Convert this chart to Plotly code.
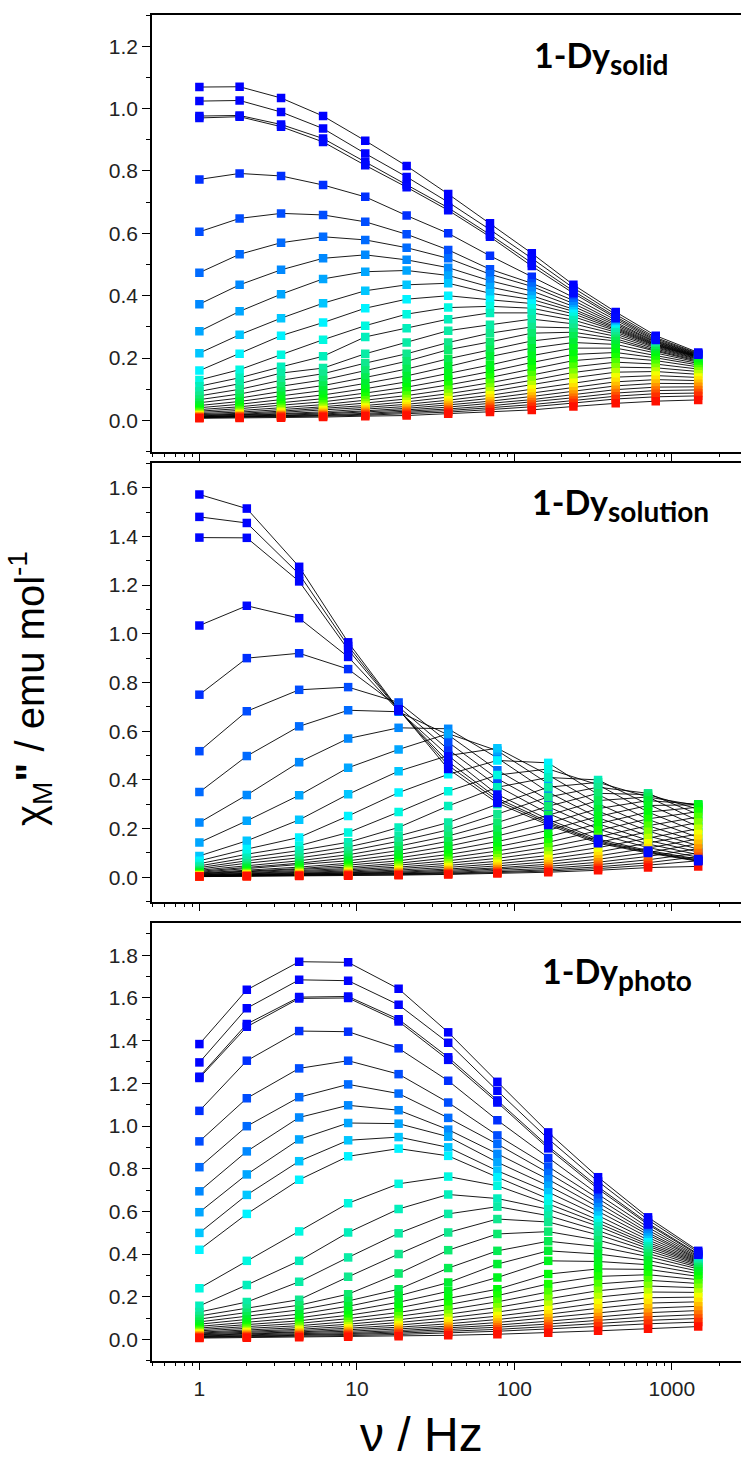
import plotly.graph_objects as go
from plotly.colors import sample_colorscale

# ---------------- data ----------------
freq_solid = [1, 1.8, 3.3, 6.1, 11.3, 20.7, 38, 70, 129, 237, 440, 790, 1470]
freq_soln = [1, 2.0, 4.3, 8.8, 18.4, 38, 78, 164, 340, 706, 1470]
freq_photo = [1, 2.0, 4.3, 8.8, 18.4, 38, 78, 164, 340, 706, 1470]

chi_solid = [
    [1.069, 1.070, 1.034, 0.976, 0.897, 0.816, 0.726, 0.632, 0.536, 0.435, 0.348, 0.272, 0.218],
    [1.024, 1.026, 0.989, 0.936, 0.856, 0.781, 0.700, 0.612, 0.520, 0.425, 0.340, 0.266, 0.215],
    [0.976, 0.978, 0.949, 0.904, 0.829, 0.757, 0.682, 0.596, 0.505, 0.415, 0.333, 0.262, 0.213],
    [0.970, 0.974, 0.942, 0.893, 0.818, 0.748, 0.674, 0.589, 0.495, 0.408, 0.328, 0.258, 0.211],
    [0.773, 0.792, 0.784, 0.755, 0.717, 0.657, 0.600, 0.528, 0.461, 0.395, 0.322, 0.255, 0.210],
    [0.605, 0.648, 0.664, 0.659, 0.637, 0.597, 0.547, 0.485, 0.440, 0.385, 0.315, 0.252, 0.208],
    [0.474, 0.533, 0.570, 0.589, 0.579, 0.554, 0.520, 0.469, 0.430, 0.375, 0.310, 0.250, 0.207],
    [0.373, 0.435, 0.483, 0.520, 0.531, 0.515, 0.490, 0.448, 0.415, 0.366, 0.305, 0.247, 0.206],
    [0.286, 0.350, 0.405, 0.454, 0.477, 0.481, 0.465, 0.428, 0.400, 0.357, 0.300, 0.245, 0.205],
    [0.216, 0.275, 0.328, 0.376, 0.416, 0.435, 0.440, 0.408, 0.388, 0.350, 0.296, 0.243, 0.204],
    [0.160, 0.214, 0.272, 0.314, 0.360, 0.389, 0.400, 0.387, 0.375, 0.342, 0.292, 0.241, 0.203],
    [0.130, 0.163, 0.211, 0.259, 0.304, 0.341, 0.362, 0.366, 0.360, 0.333, 0.288, 0.239, 0.202],
    [0.110, 0.137, 0.172, 0.206, 0.268, 0.296, 0.325, 0.345, 0.345, 0.322, 0.283, 0.236, 0.200],
    [0.093, 0.118, 0.152, 0.168, 0.214, 0.250, 0.288, 0.307, 0.325, 0.310, 0.277, 0.233, 0.198],
    [0.079, 0.100, 0.129, 0.150, 0.184, 0.214, 0.250, 0.280, 0.300, 0.297, 0.270, 0.229, 0.196],
    [0.067, 0.085, 0.110, 0.130, 0.160, 0.190, 0.227, 0.252, 0.280, 0.283, 0.262, 0.225, 0.193],
    [0.057, 0.072, 0.093, 0.112, 0.138, 0.165, 0.198, 0.227, 0.255, 0.270, 0.255, 0.222, 0.190],
    [0.048, 0.061, 0.079, 0.096, 0.119, 0.143, 0.173, 0.205, 0.232, 0.250, 0.244, 0.216, 0.187],
    [0.041, 0.052, 0.067, 0.082, 0.102, 0.124, 0.151, 0.178, 0.208, 0.232, 0.232, 0.209, 0.183],
    [0.035, 0.044, 0.057, 0.070, 0.088, 0.107, 0.131, 0.157, 0.186, 0.212, 0.218, 0.201, 0.178],
    [0.030, 0.038, 0.049, 0.060, 0.076, 0.093, 0.114, 0.138, 0.165, 0.192, 0.203, 0.192, 0.172],
    [0.026, 0.032, 0.041, 0.051, 0.065, 0.080, 0.099, 0.121, 0.146, 0.172, 0.187, 0.181, 0.165],
    [0.022, 0.027, 0.035, 0.044, 0.056, 0.069, 0.086, 0.106, 0.129, 0.154, 0.171, 0.169, 0.157],
    [0.019, 0.023, 0.030, 0.038, 0.048, 0.060, 0.075, 0.093, 0.114, 0.137, 0.155, 0.157, 0.148],
    [0.017, 0.020, 0.026, 0.033, 0.042, 0.052, 0.065, 0.081, 0.100, 0.121, 0.139, 0.144, 0.138],
    [0.015, 0.018, 0.022, 0.028, 0.036, 0.045, 0.057, 0.071, 0.088, 0.107, 0.124, 0.131, 0.128],
    [0.013, 0.016, 0.019, 0.024, 0.031, 0.039, 0.050, 0.062, 0.077, 0.094, 0.111, 0.119, 0.118],
    [0.012, 0.014, 0.017, 0.021, 0.027, 0.034, 0.043, 0.054, 0.067, 0.083, 0.099, 0.107, 0.108],
    [0.011, 0.013, 0.015, 0.018, 0.023, 0.029, 0.037, 0.047, 0.059, 0.073, 0.088, 0.096, 0.098],
    [0.010, 0.012, 0.013, 0.016, 0.020, 0.025, 0.032, 0.041, 0.051, 0.064, 0.078, 0.086, 0.088],
    [0.009, 0.010, 0.012, 0.014, 0.017, 0.021, 0.027, 0.035, 0.044, 0.056, 0.069, 0.076, 0.079],
    [0.007, 0.008, 0.009, 0.011, 0.014, 0.016, 0.022, 0.027, 0.034, 0.045, 0.055, 0.062, 0.066],
]

chi_solution = [
    [1.572, 1.514, 1.275, 0.965, 0.690, 0.445, 0.305, 0.215, 0.140, 0.100, 0.066],
    [1.480, 1.455, 1.245, 0.950, 0.688, 0.460, 0.315, 0.222, 0.145, 0.103, 0.068],
    [1.395, 1.394, 1.215, 0.935, 0.686, 0.475, 0.325, 0.228, 0.150, 0.106, 0.071],
    [1.034, 1.115, 1.064, 0.905, 0.684, 0.500, 0.340, 0.238, 0.157, 0.110, 0.075],
    [0.750, 0.900, 0.920, 0.855, 0.700, 0.525, 0.375, 0.262, 0.178, 0.122, 0.083],
    [0.518, 0.682, 0.770, 0.781, 0.718, 0.555, 0.405, 0.290, 0.198, 0.137, 0.093],
    [0.350, 0.498, 0.620, 0.686, 0.680, 0.585, 0.440, 0.318, 0.220, 0.152, 0.104],
    [0.225, 0.338, 0.473, 0.570, 0.614, 0.610, 0.490, 0.350, 0.245, 0.170, 0.116],
    [0.143, 0.232, 0.337, 0.450, 0.525, 0.590, 0.520, 0.385, 0.272, 0.190, 0.130],
    [0.088, 0.150, 0.236, 0.341, 0.436, 0.500, 0.530, 0.420, 0.302, 0.212, 0.146],
    [0.068, 0.116, 0.164, 0.252, 0.348, 0.423, 0.480, 0.470, 0.340, 0.238, 0.164],
    [0.056, 0.095, 0.130, 0.184, 0.268, 0.354, 0.420, 0.445, 0.380, 0.268, 0.185],
    [0.047, 0.080, 0.110, 0.144, 0.205, 0.293, 0.370, 0.410, 0.400, 0.300, 0.208],
    [0.040, 0.068, 0.094, 0.125, 0.170, 0.225, 0.300, 0.370, 0.390, 0.330, 0.232],
    [0.034, 0.058, 0.080, 0.108, 0.148, 0.195, 0.260, 0.330, 0.370, 0.345, 0.258],
    [0.029, 0.049, 0.068, 0.093, 0.128, 0.170, 0.225, 0.292, 0.345, 0.340, 0.280],
    [0.025, 0.042, 0.058, 0.080, 0.110, 0.148, 0.195, 0.255, 0.315, 0.330, 0.295],
    [0.021, 0.036, 0.050, 0.068, 0.094, 0.128, 0.170, 0.222, 0.282, 0.315, 0.300],
    [0.018, 0.030, 0.042, 0.058, 0.080, 0.110, 0.147, 0.193, 0.250, 0.295, 0.298],
    [0.016, 0.026, 0.036, 0.050, 0.068, 0.094, 0.126, 0.167, 0.220, 0.268, 0.288],
    [0.014, 0.022, 0.031, 0.042, 0.058, 0.080, 0.108, 0.144, 0.192, 0.240, 0.270],
    [0.012, 0.019, 0.026, 0.036, 0.050, 0.068, 0.092, 0.124, 0.166, 0.212, 0.248],
    [0.010, 0.016, 0.022, 0.031, 0.042, 0.058, 0.078, 0.106, 0.143, 0.187, 0.225],
    [0.009, 0.014, 0.019, 0.026, 0.036, 0.049, 0.066, 0.090, 0.122, 0.162, 0.200],
    [0.008, 0.012, 0.016, 0.022, 0.030, 0.041, 0.056, 0.076, 0.104, 0.140, 0.178],
    [0.007, 0.010, 0.014, 0.019, 0.025, 0.034, 0.047, 0.064, 0.088, 0.120, 0.158],
    [0.006, 0.009, 0.012, 0.016, 0.021, 0.029, 0.039, 0.054, 0.074, 0.102, 0.138],
    [0.005, 0.008, 0.010, 0.013, 0.018, 0.024, 0.033, 0.045, 0.062, 0.086, 0.118],
    [0.005, 0.007, 0.009, 0.011, 0.015, 0.020, 0.027, 0.037, 0.052, 0.072, 0.100],
    [0.004, 0.006, 0.008, 0.010, 0.013, 0.017, 0.023, 0.031, 0.043, 0.060, 0.085],
    [0.004, 0.005, 0.007, 0.008, 0.011, 0.014, 0.019, 0.026, 0.036, 0.050, 0.068],
    [0.003, 0.004, 0.006, 0.007, 0.009, 0.012, 0.016, 0.021, 0.029, 0.040, 0.045],
]

chi_photo = [
    [1.384, 1.638, 1.770, 1.767, 1.643, 1.439, 1.207, 0.970, 0.760, 0.572, 0.415],
    [1.298, 1.552, 1.685, 1.681, 1.568, 1.390, 1.165, 0.940, 0.740, 0.560, 0.408],
    [1.231, 1.478, 1.604, 1.607, 1.500, 1.322, 1.120, 0.905, 0.715, 0.545, 0.400],
    [1.225, 1.465, 1.598, 1.600, 1.490, 1.310, 1.110, 0.895, 0.705, 0.538, 0.396],
    [1.071, 1.306, 1.445, 1.442, 1.364, 1.212, 1.027, 0.850, 0.680, 0.525, 0.390],
    [0.928, 1.130, 1.270, 1.306, 1.243, 1.110, 0.956, 0.810, 0.660, 0.512, 0.385],
    [0.807, 0.999, 1.135, 1.195, 1.152, 1.038, 0.915, 0.780, 0.640, 0.500, 0.380],
    [0.694, 0.881, 1.040, 1.097, 1.074, 0.983, 0.870, 0.750, 0.620, 0.490, 0.376],
    [0.596, 0.773, 0.937, 1.014, 1.011, 0.950, 0.830, 0.720, 0.600, 0.478, 0.372],
    [0.499, 0.677, 0.835, 0.933, 0.948, 0.900, 0.790, 0.690, 0.580, 0.466, 0.368],
    [0.420, 0.588, 0.748, 0.858, 0.894, 0.860, 0.760, 0.660, 0.560, 0.455, 0.364],
    [0.240, 0.368, 0.506, 0.638, 0.729, 0.763, 0.720, 0.635, 0.545, 0.445, 0.360],
    [0.157, 0.255, 0.368, 0.501, 0.611, 0.679, 0.660, 0.610, 0.530, 0.436, 0.355],
    [0.128, 0.175, 0.270, 0.384, 0.497, 0.588, 0.622, 0.580, 0.510, 0.426, 0.350],
    [0.110, 0.145, 0.186, 0.293, 0.400, 0.501, 0.564, 0.550, 0.490, 0.415, 0.344],
    [0.095, 0.125, 0.160, 0.212, 0.309, 0.418, 0.494, 0.505, 0.465, 0.402, 0.338],
    [0.082, 0.108, 0.138, 0.180, 0.235, 0.334, 0.415, 0.460, 0.435, 0.388, 0.330],
    [0.071, 0.093, 0.118, 0.155, 0.204, 0.266, 0.353, 0.415, 0.400, 0.370, 0.320],
    [0.061, 0.080, 0.101, 0.132, 0.174, 0.225, 0.290, 0.368, 0.365, 0.350, 0.308],
    [0.053, 0.069, 0.087, 0.113, 0.148, 0.192, 0.235, 0.306, 0.330, 0.328, 0.295],
    [0.046, 0.059, 0.075, 0.097, 0.126, 0.163, 0.205, 0.260, 0.295, 0.303, 0.280],
    [0.040, 0.051, 0.064, 0.083, 0.108, 0.139, 0.176, 0.222, 0.260, 0.277, 0.262],
    [0.034, 0.044, 0.055, 0.071, 0.092, 0.118, 0.150, 0.190, 0.228, 0.250, 0.242],
    [0.030, 0.038, 0.047, 0.061, 0.079, 0.101, 0.128, 0.162, 0.198, 0.222, 0.220],
    [0.026, 0.033, 0.041, 0.052, 0.067, 0.086, 0.109, 0.138, 0.170, 0.195, 0.198],
    [0.022, 0.028, 0.035, 0.045, 0.057, 0.073, 0.093, 0.118, 0.146, 0.170, 0.176],
    [0.019, 0.024, 0.030, 0.038, 0.049, 0.062, 0.079, 0.100, 0.124, 0.146, 0.155],
    [0.016, 0.020, 0.025, 0.032, 0.041, 0.053, 0.067, 0.085, 0.105, 0.125, 0.135],
    [0.013, 0.017, 0.021, 0.027, 0.035, 0.045, 0.057, 0.072, 0.089, 0.106, 0.116],
    [0.011, 0.014, 0.018, 0.023, 0.029, 0.037, 0.047, 0.060, 0.075, 0.089, 0.098],
    [0.009, 0.011, 0.014, 0.018, 0.023, 0.030, 0.038, 0.049, 0.061, 0.073, 0.081],
    [0.006, 0.008, 0.010, 0.012, 0.015, 0.019, 0.024, 0.031, 0.040, 0.050, 0.060],
]

x_tick_vals = [1, 10, 100, 1000]
x_tick_text = ["1", "10", "100", "1000"]
panel_names = ["solid", "solution", "photo"]

# ---------------- style ----------------
rainbow = [
    [0.00, "#0000FF"], [0.10, "#0008FF"], [0.13, "#0030FF"], [0.19, "#0068FF"],
    [0.26, "#00A8FF"], [0.30, "#00D0FF"], [0.33, "#00FFFF"], [0.38, "#00F0C0"],
    [0.45, "#10E890"], [0.55, "#00EE30"], [0.63, "#00FF00"], [0.72, "#90FF00"],
    [0.78, "#FFFF00"], [0.85, "#FFB000"], [0.92, "#FF6000"], [1.00, "#FF1000"],
]

W, H = 741, 1462
ML = 152
panel_px = [(15, 451.7), (463.3, 901.7), (923.3, 1360.7)]
y_ranges = [[-0.1, 1.3], [-0.1, 1.7], [-0.1, 1.95]]
x_range = [-0.301, 3.439]

minor_x = [m * 10 ** e for e in range(-1, 4) for m in range(2, 10)]
minor_x = [v for v in minor_x if 0.5 <= v <= 2700]

panels = [(freq_solid, chi_solid), (freq_soln, chi_solution), (freq_photo, chi_photo)]

fig = go.Figure()
tickfont = dict(family="Liberation Sans, Arial, sans-serif", size=21, color="#222")

for k, (freqs, curves) in enumerate(panels):
    xa = "x" if k == 0 else f"x{k+1}"
    ya = "y" if k == 0 else f"y{k+1}"
    n = len(curves)
    cols = sample_colorscale(rainbow, [i / (n - 1) for i in range(n)])
    lx, ly = [], []
    for c in curves:
        lx += list(freqs) + [None]
        ly += list(c) + [None]
    fig.add_trace(go.Scatter(x=lx, y=ly, mode="lines", xaxis=xa, yaxis=ya,
                             line=dict(color="black", width=0.9),
                             hoverinfo="skip", showlegend=False))
    # draw order: warmer curves over cooler ones, the four coldest curves last
    order = list(range(4, n)) + list(range(4))
    mx, my, mc = [], [], []
    for i in order:
        c = curves[i]
        mx += list(freqs)
        my += list(c)
        mc += [cols[i]] * len(freqs)
    fig.add_trace(go.Scatter(x=mx, y=my, mode="markers", xaxis=xa, yaxis=ya,
                             marker=dict(symbol="square", size=8.5, color=mc, line=dict(width=0)),
                             showlegend=False))

    top, bot = panel_px[k]
    dom = [1 - bot / H, 1 - top / H]
    xkey = "xaxis" if k == 0 else f"xaxis{k+1}"
    ykey = "yaxis" if k == 0 else f"yaxis{k+1}"
    fig.layout[xkey] = dict(
        type="log", range=x_range, domain=[0, 1], anchor=ya,
        showline=True, linecolor="black", linewidth=1.5, mirror=True,
        ticks="outside", ticklen=8, tickwidth=1.2, tickcolor="black",
        tickmode="array", tickvals=x_tick_vals, ticktext=x_tick_text,
        showticklabels=(k == 2), tickfont=tickfont, showgrid=False, zeroline=False,
        minor=dict(tickmode="array", tickvals=minor_x, ticks="outside", ticklen=4,
                   tickwidth=1, tickcolor="black", showgrid=False),
    )
    fig.layout[ykey] = dict(
        range=y_ranges[k], domain=dom, anchor=xa,
        showline=True, linecolor="black", linewidth=1.5, mirror=False,
        ticks="outside", ticklen=8, tickwidth=1.2, tickcolor="black",
        tick0=0, dtick=0.2, tickformat=".1f", tickfont=tickfont,
        showgrid=False, zeroline=False,
        minor=dict(dtick=0.1, tick0=0, ticks="outside", ticklen=4, tickwidth=1,
                   tickcolor="black", showgrid=False),
    )

def px_x(p):
    return (p - ML) / (W - ML)

def px_y(p):
    return 1 - p / H

annots = [
    dict(text="χ<sub>M</sub><b>\"</b> / emu mol<sup>-1</sup>", x=px_x(30), y=px_y(689),
         textangle=-90, font=dict(family="Liberation Sans, Arial, sans-serif", size=40, color="black")),
    dict(text="ν / Hz", x=px_x(421), y=px_y(1434),
         font=dict(family="Liberation Sans, Arial, sans-serif", size=48, color="black")),
]
label_pos = [(532, 58), (530, 505), (540, 974)]
for name, (lx_, ly_) in zip(panel_names, label_pos):
    annots.append(dict(
        text=f"<b>1-Dy</b><sub><b><span style=\"font-size:28px\">{name}</span></b></sub>",
        x=px_x(lx_), y=px_y(ly_), xanchor="left", yanchor="middle",
        font=dict(family="Lato, Open Sans, sans-serif", size=34, color="black")))
for a in annots:
    a.update(xref="paper", yref="paper", showarrow=False)
    a.setdefault("xanchor", "center")
    a.setdefault("yanchor", "middle")

fig.update_layout(
    width=W, height=H, margin=dict(l=ML, r=0, t=0, b=0),
    paper_bgcolor="white", plot_bgcolor="white",
    annotations=annots, showlegend=False,
)

fig.write_html("out.html", config={"displayModeBar": False},
               post_script="document.body.style.margin='0px';document.body.style.overflow='hidden';")
